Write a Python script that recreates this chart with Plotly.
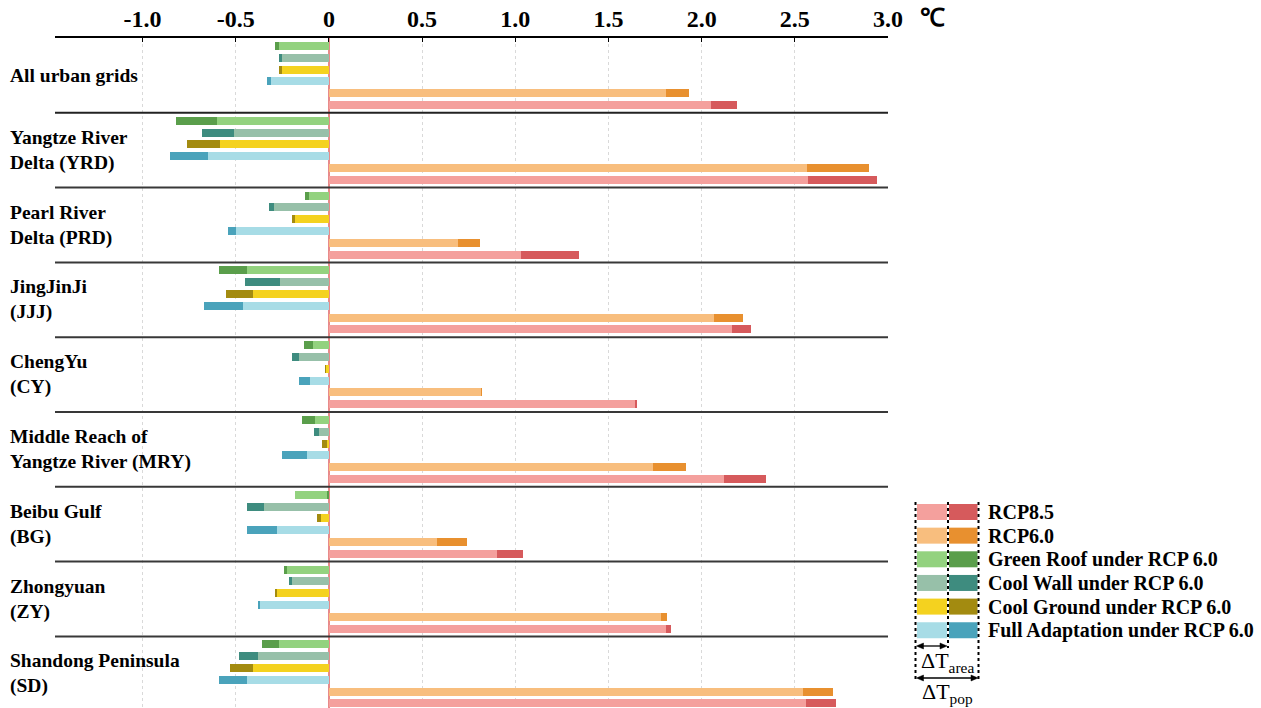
import plotly.graph_objects as go

# ---------------- data ----------------
regions = [
    "All urban grids",
    "Yangtze River<br>Delta (YRD)",
    "Pearl River<br>Delta (PRD)",
    "JingJinJi<br>(JJJ)",
    "ChengYu<br>(CY)",
    "Middle Reach of<br>Yangtze River (MRY)",
    "Beibu Gulf<br>(BG)",
    "Zhongyuan<br>(ZY)",
    "Shandong Peninsula<br>(SD)",
]

# dT_area (light) and dT_pop (dark) for each series, one value per region
green_area = [-0.27, -0.60, -0.105, -0.44, -0.086, -0.075, -0.18, -0.227, -0.268]
green_pop = [-0.29, -0.82, -0.13, -0.59, -0.134, -0.145, -0.012, -0.243, -0.36]
wall_area = [-0.25, -0.51, -0.295, -0.26, -0.16, -0.054, -0.35, -0.20, -0.381]
wall_pop = [-0.27, -0.68, -0.32, -0.45, -0.20, -0.082, -0.44, -0.213, -0.48]
ground_area = [-0.25, -0.585, -0.18, -0.41, -0.017, -0.012, -0.04, -0.28, -0.406]
ground_pop = [-0.27, -0.76, -0.20, -0.55, -0.019, -0.036, -0.064, -0.29, -0.529]
full_area = [-0.31, -0.65, -0.50, -0.46, -0.10, -0.12, -0.28, -0.37, -0.442]
full_pop = [-0.33, -0.855, -0.54, -0.67, -0.16, -0.25, -0.44, -0.383, -0.59]
rcp60_area = [1.81, 2.564, 0.695, 2.065, 0.818, 1.741, 0.578, 1.78, 2.546]
rcp60_pop = [1.93, 2.90, 0.81, 2.222, 0.822, 1.915, 0.739, 1.816, 2.705]
rcp85_area = [2.05, 2.57, 1.03, 2.163, 1.643, 2.122, 0.902, 1.807, 2.559]
rcp85_pop = [2.19, 2.94, 1.34, 2.267, 1.655, 2.344, 1.04, 1.834, 2.723]

series_names = ["Green Roof under RCP 6.0", "Cool Wall under RCP 6.0",
                "Cool Ground under RCP 6.0", "Full Adaptation under RCP 6.0",
                "RCP6.0", "RCP8.5"]
series_area = [green_area, wall_area, ground_area, full_area, rcp60_area, rcp85_area]
series_pop = [green_pop, wall_pop, ground_pop, full_pop, rcp60_pop, rcp85_pop]
light_colors = ["#93D27F", "#97C0A9", "#F4D21F", "#A7DCE6", "#F8BE7E", "#F4A09D"]
dark_colors = ["#5A9E4B", "#3E8C7F", "#A38B10", "#4AA3BB", "#E8902F", "#D65A5C"]

tick_vals = [-1.0, -0.5, 0, 0.5, 1.0, 1.5, 2.0, 2.5, 3.0]
tick_text = ["-1.0", "-0.5", "0", "0.5", "1.0", "1.5", "2.0", "2.5", "3.0"]

legend_order = ["RCP8.5", "RCP6.0", "Green Roof under RCP 6.0", "Cool Wall under RCP 6.0",
                "Cool Ground under RCP 6.0", "Full Adaptation under RCP 6.0"]

# ---------------- geometry ----------------
W, H = 1261, 708
ML, MR, MT, MB = 55, 373, 38, 0
PW, PH = W - ML - MR, H - MT - MB
GROUP_PX = 74.8
BAR_STEP = 11.8 / GROUP_PX
BAR_W = 8.0 / GROUP_PX
Y_TOP = -0.5
Y_BOT = Y_TOP + PH / GROUP_PX


def px2x(px):
    return (px - ML) / PW


def py2y(py):
    return (H - MB - py) / PH


FONT = "Liberation Serif"

# ---------------- bars ----------------
base_x, base_y, base_c = [], [], []
top_x, top_y, top_c = [], [], []
for i in range(len(regions)):
    for j in range(len(series_names)):
        yy = i + (j - 2.5) * BAR_STEP
        a = series_area[j][i]
        p = series_pop[j][i]
        if abs(p) >= abs(a):
            base_x.append(p); base_c.append(dark_colors[j])
            top_x.append(a); top_c.append(light_colors[j])
        else:
            base_x.append(a); base_c.append(light_colors[j])
            top_x.append(p); top_c.append(dark_colors[j])
        base_y.append(yy)
        top_y.append(yy)

fig = go.Figure()
fig.add_trace(go.Bar(x=base_x, y=base_y, orientation="h", width=BAR_W,
                     marker=dict(color=base_c, line=dict(width=0)), showlegend=False))
fig.add_trace(go.Bar(x=top_x, y=top_y, orientation="h", width=BAR_W,
                     marker=dict(color=top_c, line=dict(width=0)), showlegend=False))

shapes = []
# group separators
for i in range(len(regions) - 1):
    shapes.append(dict(type="line", xref="x", yref="y", x0=-1.47, x1=3.0,
                       y0=i + 0.5, y1=i + 0.5,
                       line=dict(color="#222222" if i == 0 else "#383838", width=2),
                       layer="above"))

annotations = []
for i, r in enumerate(regions):
    annotations.append(dict(x=px2x(8), y=i, xref="paper", yref="y", text=r,
                            showarrow=False, xanchor="left", yanchor="middle", align="left",
                            font=dict(family=FONT, size=19.5, color="black", weight="bold")))

# unit label
annotations.append(dict(x=px2x(933), y=py2y(18), xref="paper", yref="paper", text="℃",
                        showarrow=False, xanchor="center", yanchor="middle",
                        font=dict(family=FONT, size=25, color="black", weight="bold")))

# ---------------- custom legend ----------------
for k, name in enumerate(legend_order):
    j = series_names.index(name)
    cy = 512 + k * 23.65
    shapes.append(dict(type="rect", xref="paper", yref="paper",
                       x0=px2x(917), x1=px2x(947), y0=py2y(cy - 8), y1=py2y(cy + 8),
                       fillcolor=light_colors[j], line=dict(width=0)))
    shapes.append(dict(type="rect", xref="paper", yref="paper",
                       x0=px2x(949), x1=px2x(977.5), y0=py2y(cy - 8), y1=py2y(cy + 8),
                       fillcolor=dark_colors[j], line=dict(width=0)))
    annotations.append(dict(x=px2x(986), y=py2y(cy), xref="paper", yref="paper", text=name,
                            showarrow=False, xanchor="left", yanchor="middle",
                            font=dict(family=FONT, size=20, color="black", weight="bold")))

for xp, yb in [(915.5, 681), (948, 648), (978.5, 681)]:
    shapes.append(dict(type="line", xref="paper", yref="paper", x0=px2x(xp), x1=px2x(xp),
                       y0=py2y(502), y1=py2y(yb), line=dict(color="black", width=2, dash="dot")))

# double-headed arrows for dT_area and dT_pop
for x0p, x1p, yp in [(916.5, 947, 646), (916.5, 978, 678)]:
    shapes.append(dict(type="line", xref="paper", yref="paper", x0=px2x(x0p + 2), x1=px2x(x1p - 2),
                       y0=py2y(yp), y1=py2y(yp), line=dict(color="black", width=1.3)))
    for tip, back in [(x0p, x0p + 7), (x1p, x1p - 7)]:
        path = "M {} {} L {} {} L {} {} Z".format(px2x(tip), py2y(yp), px2x(back), py2y(yp - 3),
                                                  px2x(back), py2y(yp + 3))
        shapes.append(dict(type="path", xref="paper", yref="paper", path=path,
                           fillcolor="black", line=dict(color="black", width=0.5)))

annotations.append(dict(x=px2x(947), y=py2y(662), xref="paper", yref="paper",
                        text="ΔT<sub>area</sub>", showarrow=False, xanchor="center",
                        yanchor="middle", font=dict(family=FONT, size=22, color="black")))
annotations.append(dict(x=px2x(947), y=py2y(693), xref="paper", yref="paper",
                        text="ΔT<sub>pop</sub>", showarrow=False, xanchor="center",
                        yanchor="middle", font=dict(family=FONT, size=22, color="black")))

fig.update_layout(
    width=W, height=H,
    margin=dict(l=ML, r=MR, t=MT, b=MB, pad=0),
    paper_bgcolor="white", plot_bgcolor="white",
    barmode="overlay", bargap=0,
    shapes=shapes, annotations=annotations,
    xaxis=dict(side="top", range=[-1.47, 3.0], tickvals=tick_vals, ticktext=tick_text,
               tickfont=dict(family=FONT, size=24, color="black", weight="bold"),
               showgrid=True, gridcolor="#d9d9d9", gridwidth=1, griddash="dot",
               showline=True, linecolor="black", linewidth=1.5,
               ticks="inside", ticklen=4, tickcolor="black",
               zeroline=True, zerolinecolor="#E88A8A", zerolinewidth=2,
               fixedrange=True),
    yaxis=dict(range=[Y_BOT, Y_TOP], showticklabels=False, showgrid=False,
               zeroline=False, showline=False, ticks="", fixedrange=True),
)

fig.write_html("out.html")
